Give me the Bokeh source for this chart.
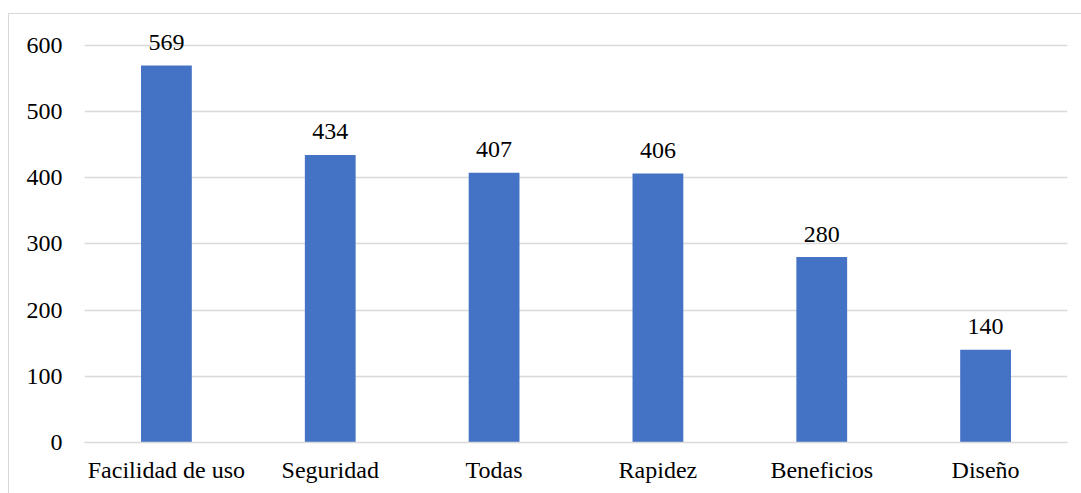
from bokeh.plotting import figure
from bokeh.models import ColumnDataSource, LabelSet, Range1d, FixedTicker
from bokeh.core.properties import value
from bokeh.embed import file_html
from bokeh.resources import INLINE

categories = ["Facilidad de uso", "Seguridad", "Todas", "Rapidez", "Beneficios", "Diseño"]
values = [569, 434, 407, 406, 280, 140]
y_ticks = [0, 100, 200, 300, 400, 500, 600]

FONT = "Liberation Serif"
GRID = "#d9d9d9"

source = ColumnDataSource(dict(cat=categories, val=values, lbl=[str(v) for v in values]))

p = figure(x_range=categories, y_range=Range1d(0, 640), width=1073, height=480,
           output_backend="svg", toolbar_location=None,
           min_border_left=75, min_border_right=15, min_border_top=4, min_border_bottom=52)
p.margin = (13, 0, 0, 8)
p.styles = {"border-left": "1.5px solid #d9d9d9", "border-top": "1.5px solid #d9d9d9"}
p.outline_line_color = None
p.background_fill_color = "white"
p.border_fill_color = "white"

p.vbar(x="cat", top="val", width=0.31, source=source, fill_color="#4472C4", line_color=None)

labels = LabelSet(x="cat", y="val", text="lbl", source=source, text_align="center",
                  text_baseline="alphabetic", y_offset=15.5, text_font=value(FONT),
                  text_font_size="24px", text_color="#000000")
p.add_layout(labels)

p.xgrid.grid_line_color = None
p.ygrid.grid_line_color = GRID
p.ygrid.grid_line_width = 1.5
p.yaxis.ticker = FixedTicker(ticks=y_ticks)

for ax in (p.xaxis, p.yaxis):
    ax.major_tick_line_color = None
    ax.minor_tick_line_color = None
    ax.major_label_text_font = FONT
    ax.major_label_text_font_size = "24px"
    ax.major_label_text_color = "#000000"

p.yaxis.axis_line_color = None
p.yaxis.major_label_standoff = 16
p.xaxis.axis_line_color = GRID
p.xaxis.axis_line_width = 1.5
p.xaxis.major_label_standoff = 8

open("out.html", "w").write(file_html(p, INLINE))
